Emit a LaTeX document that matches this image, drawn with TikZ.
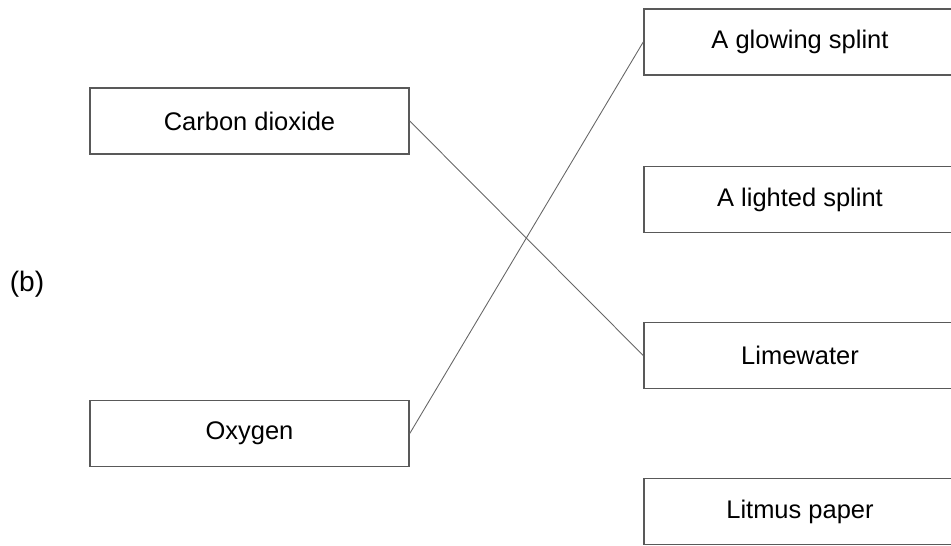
\documentclass[tikz,border=0pt]{standalone}
\usepackage{fontspec}
\setmainfont{Liberation Sans}
\begin{document}
\begin{tikzpicture}[x=0.02cm, y=-0.02cm,
    box/.style={draw=black!65, line width=0.9pt, inner sep=0pt, minimum height=1.32cm, font=\fontsize{14.5}{17}\selectfont},
    lbox/.style={box, minimum width=6.38cm},
    rbox/.style={box, minimum width=6.24cm},
    link/.style={draw=black!60, line width=0.5pt}]
        \clip (0,0) rectangle (951,546);
        \node[font=\fontsize{16}{19}\selectfont] (lbl) at (27,284) {(b)};
        \node[lbox] (cd) at (249.5,121) {Carbon dioxide};
        \node[lbox] (ox) at (249.5,433.5) {Oxygen};
        \node[rbox] (gs) at (800,42) {A glowing splint};
        \node[rbox] (ls) at (800,199.5) {A lighted splint};
        \node[rbox] (lw) at (800,355.5) {Limewater};
        \node[rbox] (lp) at (800,511.5) {Litmus paper};
        \draw[link] (cd.east) -- (lw.west);
        \draw[link] (ox.east) -- (gs.west);
    \end{tikzpicture}
\end{document}
